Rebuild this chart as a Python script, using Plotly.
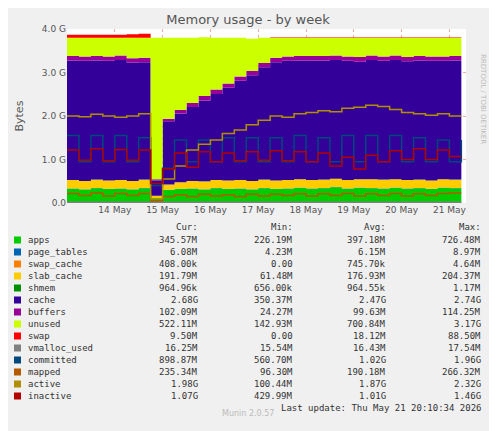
import plotly.graph_objects as go
import pandas as pd

times = pd.date_range("2026-05-13 00:00", periods=34, freq="6h")

# values in G, stacked series (6-hourly samples)
apps = [0.33, 0.31, 0.34, 0.32, 0.33, 0.31, 0.34, 0.10, 0.30, 0.32, 0.33, 0.31, 0.34, 0.32, 0.33,
        0.31, 0.34, 0.32, 0.33, 0.35, 0.33, 0.34, 0.36, 0.33, 0.35, 0.34, 0.33, 0.35, 0.33, 0.34, 0.32, 0.35, 0.34, 0.34]
page_tables = [0.006] * 34
swap_cache = [0.001] * 34
slab_cache = [0.19, 0.19, 0.19, 0.19, 0.19, 0.19, 0.19, 0.06, 0.12, 0.15, 0.17, 0.18, 0.18, 0.19, 0.19,
              0.19, 0.19, 0.19, 0.19, 0.19, 0.19, 0.19, 0.19, 0.19, 0.19, 0.20, 0.20, 0.19, 0.19, 0.19, 0.19, 0.19, 0.19, 0.19]
shmem = [0.001] * 34
cache = [2.75, 2.76, 2.74, 2.75, 2.76, 2.72, 2.70, 0.35, 1.45, 1.58, 1.70, 1.86, 1.98, 2.13, 2.28,
         2.43, 2.58, 2.72, 2.74, 2.73, 2.75, 2.74, 2.73, 2.74, 2.70, 2.74, 2.73, 2.74, 2.73, 2.74, 2.75, 2.72, 2.74, 2.74]
buffers = [0.10, 0.10, 0.10, 0.10, 0.10, 0.10, 0.10, 0.03, 0.06, 0.08, 0.09, 0.10, 0.10, 0.10, 0.10,
           0.10, 0.10, 0.10, 0.10, 0.10, 0.10, 0.10, 0.10, 0.10, 0.11, 0.10, 0.10, 0.10, 0.10, 0.10, 0.10, 0.10, 0.10, 0.10]
unused = [0.42, 0.43, 0.42, 0.43, 0.41, 0.47, 0.46, 3.25, 1.86, 1.66, 1.50, 1.35, 1.19, 1.05, 0.89,
          0.74, 0.58, 0.46, 0.43, 0.42, 0.42, 0.42, 0.41, 0.43, 0.44, 0.41, 0.43, 0.41, 0.44, 0.42, 0.43, 0.43, 0.42, 0.42]
swap = [0.07, 0.07, 0.07, 0.07, 0.07, 0.08, 0.09, 0.0, 0.0, 0.0, 0.0, 0.0, 0.0, 0.0, 0.0,
        0.0, 0.0, 0.01, 0.01, 0.01, 0.01, 0.01, 0.01, 0.01, 0.01, 0.01, 0.01, 0.01, 0.01, 0.01, 0.01, 0.01, 0.01, 0.01]

# line series
vmalloc_used = [0.016] * 34
committed = [1.55, 0.95, 1.55, 0.95, 1.55, 0.95, 1.50, 0.40, 0.80, 1.45, 0.95, 1.45, 0.95, 1.50, 0.95,
             1.50, 0.95, 1.50, 0.95, 1.55, 0.95, 1.50, 0.95, 1.55, 0.95, 1.55, 0.95, 1.55, 0.95, 1.50, 0.95, 1.45, 0.95, 1.45]
mapped = [0.22, 0.17, 0.23, 0.16, 0.22, 0.17, 0.22, 0.05, 0.15, 0.19, 0.15, 0.20, 0.16, 0.19, 0.15,
          0.20, 0.16, 0.20, 0.17, 0.21, 0.16, 0.21, 0.17, 0.22, 0.16, 0.21, 0.17, 0.22, 0.16, 0.21, 0.17, 0.22, 0.23, 0.23]
active = [2.00, 1.98, 2.04, 2.00, 1.97, 2.00, 2.05, 0.10, 0.55, 0.85, 1.22, 1.35, 1.45, 1.60, 1.68,
          1.80, 1.90, 2.00, 1.97, 2.05, 2.08, 2.12, 2.10, 2.18, 2.20, 2.25, 2.22, 2.15, 2.08, 2.05, 2.02, 2.05, 2.00, 2.00]
inactive = [1.22, 0.98, 1.25, 0.97, 1.23, 0.98, 1.22, 0.45, 0.78, 1.15, 0.82, 1.18, 0.95, 1.15, 0.97,
            1.18, 0.98, 1.20, 0.97, 1.18, 0.95, 1.15, 0.85, 1.05, 0.78, 1.10, 0.95, 1.20, 1.00, 1.25, 1.00, 1.22, 1.07, 1.07]

names = ["apps", "page_tables", "swap_cache", "slab_cache", "shmem", "cache", "buffers", "unused", "swap",
         "vmalloc_used", "committed", "mapped", "active", "inactive"]
colors = ["#00CC00", "#0066B3", "#FF8000", "#FFCC00", "#008F00", "#330099", "#990099", "#CCFF00", "#FF0000",
          "#808080", "#00487D", "#B35A00", "#B38F00", "#B30000"]
cur = ["345.57M", "6.08M", "408.00k", "191.79M", "964.96k", "2.68G", "102.09M", "522.11M", "9.50M",
       "16.25M", "898.87M", "235.34M", "1.98G", "1.07G"]
mins = ["226.19M", "4.23M", "0.00", "61.48M", "656.00k", "350.37M", "24.27M", "142.93M", "0.00",
        "15.54M", "560.70M", "96.30M", "100.44M", "429.99M"]
avgs = ["397.18M", "6.15M", "745.70k", "176.93M", "964.55k", "2.47G", "99.63M", "700.84M", "18.12M",
        "16.43M", "1.02G", "190.18M", "1.87G", "1.01G"]
maxs = ["726.48M", "8.97M", "4.64M", "204.37M", "1.17M", "2.74G", "114.25M", "3.17G", "88.50M",
        "17.54M", "1.96G", "266.32M", "2.32G", "1.46G"]

stacked = [apps, page_tables, swap_cache, slab_cache, shmem, cache, buffers, unused, swap]
lines = [vmalloc_used, committed, mapped, active, inactive]

fig = go.Figure()
for name, col, vals in zip(names[:9], colors[:9], stacked):
    fig.add_trace(go.Scatter(x=times, y=vals, name=name, stackgroup="mem", mode="lines",
                             line=dict(width=0, color=col, shape="hv"), fillcolor=col))
for name, col, vals in zip(names[9:], colors[9:], lines):
    fig.add_trace(go.Scatter(x=times, y=vals, name=name, mode="lines",
                             line=dict(width=1.5, color=col, shape="hv")))

# page offsets everything by 8px (body margin), so design coords are shifted
OFF = 8
W, H = 497, 431
L, R, T, B = 67 - OFF, 466 - OFF, 29 - OFF, 203 - OFF


def px(x):
    return (x - OFF - L) / (R - L)


def py(y):
    return (B - (y - OFF)) / (B - T)


ann = []
mono = dict(family="DejaVu Sans Mono", size=9, color="#333")
for x, t in [(200, "Cur:"), (295, "Min:"), (388, "Avg:"), (483, "Max:")]:
    ann.append(dict(x=px(x), y=py(227), text=t, xanchor="right"))
shapes = []
for i, n in enumerate(names):
    yy = 240 + i * 12
    shapes.append(dict(type="rect", xref="paper", yref="paper", x0=px(14), x1=px(21),
                       y0=py(yy + 3.5), y1=py(yy - 3.5), fillcolor=colors[i], line_width=0))
    ann.append(dict(x=px(26), y=py(yy), text=n, xanchor="left"))
    for x, v in [(200, cur[i]), (295, mins[i]), (388, avgs[i]), (483, maxs[i])]:
        ann.append(dict(x=px(x), y=py(yy), text=v, xanchor="right"))
ann.append(dict(x=px(483), y=py(408), text="Last update: Thu May 21 20:10:34 2026", xanchor="right"))
for a in ann:
    a.update(xref="paper", yref="paper", showarrow=False, yanchor="middle", font=mono)
ann.append(dict(x=px(248), y=py(420), text="Munin 2.0.57", xref="paper", yref="paper", showarrow=False,
                font=dict(family="DejaVu Sans", size=8, color="#bbb")))
ann.append(dict(x=px(489), y=py(52), text="RRDTOOL / TOBI OETIKER", xref="paper", yref="paper",
                showarrow=False, textangle=90, font=dict(family="DejaVu Sans", size=7, color="#bbb")))
ann.append(dict(x=px(10), y=py(116), text="Bytes", xref="paper", yref="paper", showarrow=False,
                textangle=-90, font=dict(family="DejaVu Sans", size=11, color="#555")))

fig.update_layout(
    width=W, height=H, margin=dict(l=L, r=W - R, t=T, b=H - B),
    paper_bgcolor="#F0F0F0", plot_bgcolor="#FFFFFF", showlegend=False,
    title=dict(text="Memory usage - by week", x=px(248), xref="paper", y=1 - (19 - OFF) / H,
               xanchor="center", yanchor="middle",
               font=dict(family="DejaVu Sans", size=13, color="#555")),
    font=dict(family="DejaVu Sans", size=9, color="#555"),
    annotations=ann, shapes=shapes,
    xaxis=dict(range=["2026-05-13 00:00", "2026-05-21 08:20"],
               tickvals=pd.date_range("2026-05-14", periods=8, freq="D"),
               ticktext=[f"{d} May" for d in range(14, 22)],
               showgrid=True, gridcolor="rgba(230,150,150,0.8)", griddash="dot", gridwidth=1,
               ticks="", showline=False, zeroline=False),
    yaxis=dict(range=[0, 4.0], tickvals=[0, 1, 2, 3, 4], ticktext=["0.0", "1.0 G", "2.0 G", "3.0 G", "4.0 G"],
               showgrid=True, gridcolor="rgba(230,150,150,0.8)", griddash="dot", gridwidth=1,
               ticks="", zeroline=False),
)
fig.write_html("out.html")
